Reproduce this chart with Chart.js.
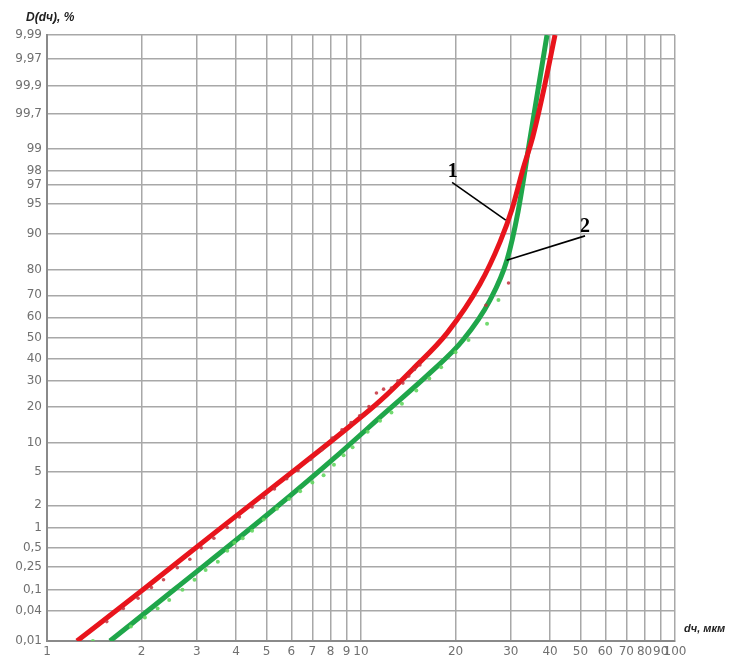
<!DOCTYPE html>
<html>
<head>
<meta charset="utf-8">
<script src="https://cdn.jsdelivr.net/npm/chart.js@4.4.0/dist/chart.umd.min.js"></script>
<style>
  html, body { margin: 0; padding: 0; background: #fff; }
  #wrap { width: 731px; height: 661px; }
</style>
</head>
<body>
<div id="wrap"><canvas id="chart" width="731" height="661"></canvas></div>
<script>
// axis ticks
const xTicks = [1, 2, 3, 4, 5, 6, 7, 8, 9, 10, 20, 30, 40, 50, 60, 70, 80, 90, 100];
const yTickValues = [0.01, 0.04, 0.1, 0.25, 0.5, 1, 2, 5, 10, 20, 30, 40, 50, 60, 70, 80, 90, 95, 97, 98, 99, 99.7, 99.9, 99.97, 99.99];
const yTickLabels = ['0,01', '0,04', '0,1', '0,25', '0,5', '1', '2', '5', '10', '20', '30', '40', '50', '60', '70', '80', '90', '95', '97', '98', '99', '99,7', '99,9', '9,97', '9,99'];

// curve 1 (red)
const curve1X = [1.246, 2.02, 3.58, 6.39, 9.23, 11.5, 14.64, 18.79, 23.93, 27.72, 30.26, 32.81, 35.3, 38.27, 41.48];
const curve1P = [0.01, 0.1, 0.99, 5.81, 14.0, 22.0, 35.2, 52.4, 74.6, 88.1, 94.3, 98.1, 99.34, 99.89, 99.99];

// curve 2 (green)
const curve2X = [1.587, 2.538, 5.245, 8.57, 11.92, 16.59, 21.13, 25.75, 29.17, 31.62, 34.68, 36.78, 39.12];
const curve2P = [0.01, 0.1, 1.74, 7.9, 17.9, 33.4, 49.0, 67.9, 83.1, 93.9, 99.36, 99.9, 99.99];

// measured points, sample 1 (red)
const points1X = [1.55, 1.75, 1.95, 2.15, 2.35, 2.6, 2.85, 3.1, 3.4, 3.75, 4.1, 4.5, 4.9, 5.3, 5.8, 6.3, 6.9, 7.5, 8.1, 8.7, 9.3, 9.9, 10.6, 11.2, 11.8, 12.5, 13.1, 13.6, 14.2, 14.8, 15.4, 25.0, 29.5];
const points1P = [0.025, 0.045, 0.07, 0.11, 0.15, 0.24, 0.33, 0.5, 0.7, 1.0, 1.4, 1.9, 2.5, 3.2, 4.2, 5.2, 6.8, 8.5, 11, 13, 15, 17, 20, 25, 26.5, 27, 30, 29, 32, 35, 37, 65.6, 75];

// measured points, sample 2 (green)
const points2X = [1.4, 1.85, 2.05, 2.25, 2.45, 2.7, 2.95, 3.2, 3.5, 3.75, 3.95, 4.2, 4.5, 4.9, 5.4, 5.9, 6.4, 7.0, 7.6, 8.2, 8.8, 9.4, 10.5, 11.5, 12.5, 13.5, 15, 16.5, 18, 20, 22, 25.2, 27.4];
const points2P = [0.01, 0.02, 0.03, 0.045, 0.065, 0.1, 0.15, 0.22, 0.3, 0.45, 0.6, 0.7, 0.9, 1.3, 1.8, 2.4, 3.0, 3.8, 4.6, 6, 7.5, 9, 12.5, 15.5, 18, 21, 26, 31, 36, 43, 49, 57, 68];

// callouts "1" and "2"
const leader1X = [19.5, 28.9];
const leader1P = [97.2, 92.6];
const leader2X = [51.7, 29.1];
const leader2P = [89.5, 83];
const noteText = ['1', '2'];
const noteX = [19.6, 51.7];
const noteP = [97.9, 91.3];

// percent -> normal quantile (probability paper)
function probit(pct) {
    const p = pct / 100;
    const a = [-3.969683028665376e+01, 2.209460984245205e+02, -2.759285104469687e+02, 1.383577518672690e+02, -3.066479806614716e+01, 2.506628277459239e+00];
    const b = [-5.447609879822406e+01, 1.615858368580409e+02, -1.556989798598866e+02, 6.680131188771972e+01, -1.328068155288572e+01];
    const c = [-7.784894002430293e-03, -3.223964580411365e-01, -2.400758277161838e+00, -2.549732539343734e+00, 4.374664141464968e+00, 2.938163982698783e+00];
    const d = [7.784695709041462e-03, 3.224671290700398e-01, 2.445134137142996e+00, 3.754408661907416e+00];
    const pl = 0.02425;
    let q, r;
    if (p < pl) {
        q = Math.sqrt(-2 * Math.log(p));
        return (((((c[0]*q+c[1])*q+c[2])*q+c[3])*q+c[4])*q+c[5]) / ((((d[0]*q+d[1])*q+d[2])*q+d[3])*q+1);
    }
    if (p > 1 - pl) {
        q = Math.sqrt(-2 * Math.log(1 - p));
        return -(((((c[0]*q+c[1])*q+c[2])*q+c[3])*q+c[4])*q+c[5]) / ((((d[0]*q+d[1])*q+d[2])*q+d[3])*q+1);
    }
    q = p - 0.5;
    r = q * q;
    return (((((a[0]*r+a[1])*r+a[2])*r+a[3])*r+a[4])*r+a[5])*q / (((((b[0]*r+b[1])*r+b[2])*r+b[3])*r+b[4])*r+1);
}

const toPoints = (xs, ps) => xs.map((x, i) => ({ x: x, y: probit(ps[i]) }));

const RED = '#e8141c';
const GREEN = '#1fa64a';
const tickFont = { family: '"DejaVu Sans", sans-serif', size: 12 };

const textPlugin = {
    id: 'texts',
    beforeDraw(chart) {
        const ctx = chart.ctx;
        ctx.save();
        ctx.fillStyle = '#fff';
        ctx.fillRect(0, 0, chart.width, chart.height);
        ctx.restore();
    },
    afterDraw(chart) {
        const { ctx, scales: { x, y } } = chart;
        ctx.save();
        ctx.fillStyle = '#222';
        ctx.font = 'bold italic 12px "Liberation Sans", Arial, sans-serif';
        ctx.textAlign = 'left';
        ctx.textBaseline = 'alphabetic';
        ctx.fillText('D(dч), %', 26, 21);
        ctx.font = 'bold italic 11px "Liberation Sans", Arial, sans-serif';
        ctx.fillText('dч, мкм', 684, 632);

        ctx.fillStyle = '#000';
        ctx.font = 'bold 20px "Liberation Serif", serif';
        ctx.textAlign = 'center';
        ctx.textBaseline = 'middle';
        noteText.forEach((t, i) => {
            ctx.fillText(t, x.getPixelForValue(noteX[i]), y.getPixelForValue(probit(noteP[i])));
        });
        ctx.restore();
    }
};

new Chart(document.getElementById('chart').getContext('2d'), {
    type: 'line',
    data: {
        datasets: [
            {
                type: 'scatter',
                data: toPoints(points1X, points1P),
                backgroundColor: 'rgba(196, 48, 60, 0.85)',
                borderWidth: 0,
                pointRadius: 1.8
            },
            {
                type: 'scatter',
                data: toPoints(points2X, points2P),
                backgroundColor: 'rgba(100, 214, 96, 0.9)',
                borderWidth: 0,
                pointRadius: 2
            },
            {
                data: toPoints(leader1X, leader1P),
                borderColor: '#000',
                borderWidth: 1.6,
                pointRadius: 0
            },
            {
                data: toPoints(leader2X, leader2P),
                borderColor: '#000',
                borderWidth: 1.6,
                pointRadius: 0
            },
            {
                data: toPoints(curve1X, curve1P),
                borderColor: RED,
                borderWidth: 5,
                pointRadius: 0,
                cubicInterpolationMode: 'monotone'
            },
            {
                data: toPoints(curve2X, curve2P),
                borderColor: GREEN,
                borderWidth: 5,
                pointRadius: 0,
                cubicInterpolationMode: 'monotone'
            }
        ]
    },
    options: {
        responsive: false,
        animation: false,
        devicePixelRatio: 1,
        layout: { padding: { left: 0, top: 35, right: 56, bottom: 0 } },
        plugins: { legend: { display: false }, tooltip: { enabled: false } },
        scales: {
            x: {
                type: 'logarithmic',
                min: 1,
                max: 100,
                afterBuildTicks: s => { s.ticks = xTicks.map(v => ({ value: v })); },
                afterFit: s => { s.height = 20; },
                grid: { color: '#a8a8a8', lineWidth: 1.5, drawTicks: false },
                border: { color: '#8a8a8a', width: 2 },
                ticks: {
                    autoSkip: false,
                    maxRotation: 0,
                    padding: 4,
                    color: '#707070',
                    font: tickFont,
                    callback: v => String(v)
                }
            },
            y: {
                type: 'linear',
                min: probit(0.01),
                max: probit(99.99),
                afterBuildTicks: s => { s.ticks = yTickValues.map(v => ({ value: probit(v) })); },
                afterFit: s => { s.width = 47; },
                grid: { color: '#a8a8a8', lineWidth: 1.5, drawTicks: false },
                border: { color: '#8a8a8a', width: 2 },
                ticks: {
                    autoSkip: false,
                    padding: 5,
                    color: '#707070',
                    font: tickFont,
                    callback: (v, i) => yTickLabels[i]
                }
            }
        }
    },
    plugins: [textPlugin]
});
</script>
</body>
</html>
